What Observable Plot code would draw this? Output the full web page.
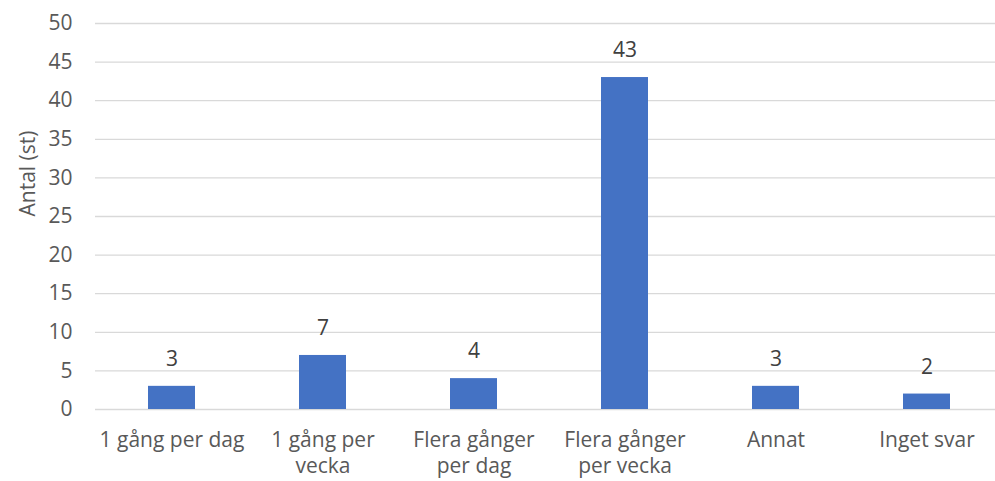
<!DOCTYPE html>
<html>
<head>
<meta charset="utf-8">
<script src="https://cdn.jsdelivr.net/npm/d3@7"></script>
<script src="https://cdn.jsdelivr.net/npm/@observablehq/plot@0.6"></script>
<style>
  html, body { margin: 0; padding: 0; background: #fff; }
  svg { display: block; }
</style>
</head>
<body>
<div id="chart"></div>
<script>
const categories = ["1 gång per dag", "1 gång per vecka", "Flera gånger per dag", "Flera gånger per vecka", "Annat", "Inget svar"];
const tickLabels = ["1 gång per dag", "1 gång per\nvecka", "Flera gånger\nper dag", "Flera gånger\nper vecka", "Annat", "Inget svar"];
const values = [3, 7, 4, 43, 3, 2];
const yTicks = [0, 5, 10, 15, 20, 25, 30, 35, 40, 45, 50];
const yLabel = "Antal (st)";

const data = categories.map((c, i) => ({category: c, value: values[i]}));
const labelOf = new Map(categories.map((c, i) => [c, tickLabels[i]]));

const font = "'Open Sans', Lato, sans-serif";
const fs = 21;
const chart = Plot.plot({
  width: 995,
  height: 481,
  marginLeft: 95,
  marginRight: -7,
  marginTop: 23,
  marginBottom: 72,
  style: {fontFamily: font, fontSize: fs + "px", color: "#595959", background: "#fff"},
  x: {domain: categories, paddingInner: 0.69, paddingOuter: 0.345, range: [95, 1002]},
  y: {domain: [0, 50], range: [409, 23]},
  marks: [
    Plot.gridY(yTicks, {stroke: "#d9d9d9", strokeOpacity: 1, strokeWidth: 1.3}),
    Plot.axisY(yTicks, {tickSize: 0, tickPadding: 23, label: null, fill: "#595959", fontSize: fs}),
    Plot.axisX({tickSize: 0, tickPadding: 20, label: null, tickFormat: d => labelOf.get(d), fill: "#595959", fontSize: fs, lineHeight: 1.2}),
    Plot.barY(data, {x: "category", y: "value", fill: "#4472C4"}),
    Plot.text(data, {x: "category", y: "value", text: d => String(d.value), dy: -27, fill: "#404040", fontSize: fs}),
    Plot.text([yLabel], {frameAnchor: "left", rotate: -90, dx: -67, fill: "#595959", fontSize: fs, text: d => d})
  ]
});
document.getElementById("chart").appendChild(chart);
</script>
</body>
</html>
